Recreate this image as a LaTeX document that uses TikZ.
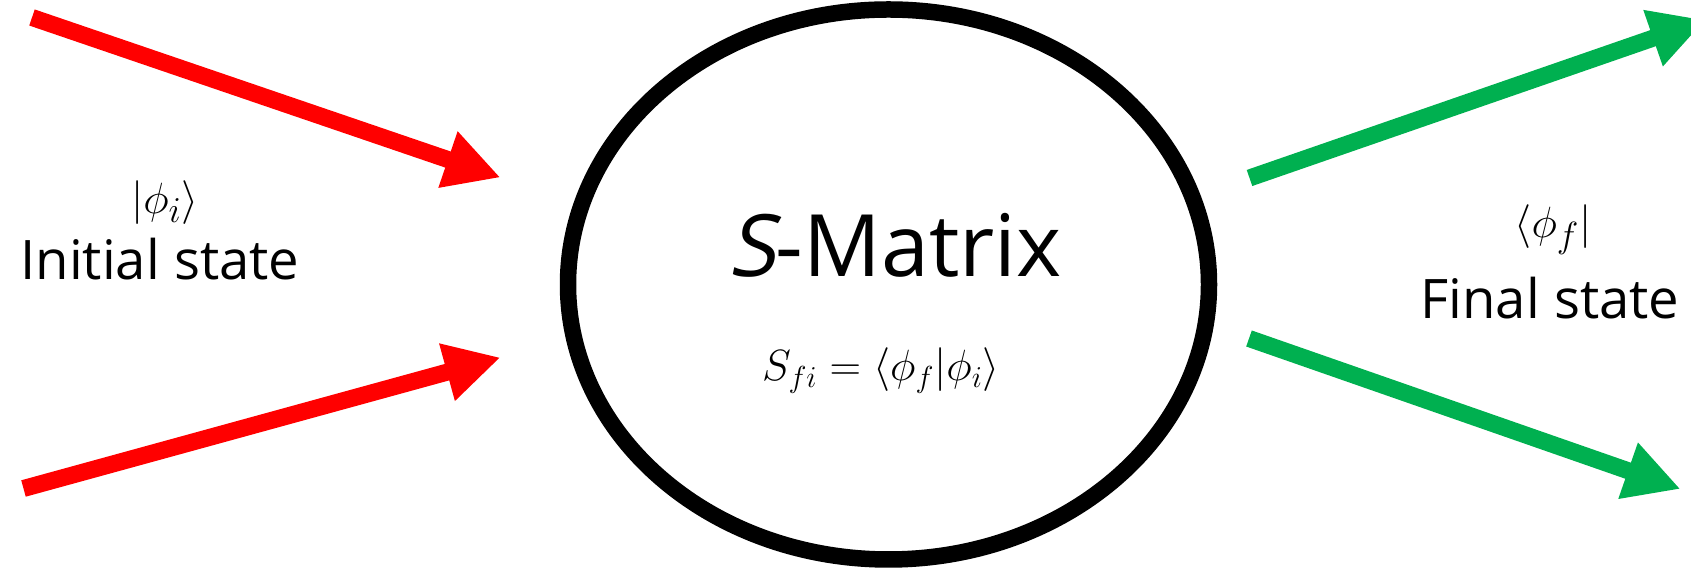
\documentclass[tikz,border=0pt]{standalone}
\usepackage{amsmath,amssymb}
\usepackage{fontspec}
\setmainfont{Open Sans}
\newfontfamily\slantsans{Open Sans}[FakeSlant=0.2]
\usepackage{tikz}
\usetikzlibrary{arrows.meta,positioning,shapes.geometric}
\definecolor{ingoing}{RGB}{255,0,0}
\definecolor{outgoing}{RGB}{0,176,80}

\begin{document}
\begin{tikzpicture}[>=Stealth,
    fatarrow/.style={line width=0.34cm,-{Triangle[length=1.11cm,width=1.11cm]}},
    statetext/.style={font=\fontsize{31}{37}\selectfont,anchor=base},
    braket/.style={font=\fontsize{28}{33}\selectfont}]
  \useasboundingbox (0,0) rectangle (33.82,11.38);
  \node[draw,ellipse,line width=0.33cm,minimum width=12.82cm,minimum height=11cm]
    (smat) at (17.77,5.69) {};
  \node[anchor=base,font=\fontsize{49}{57}\selectfont] (title) at (17.9,5.85)
    {{\slantsans S}-Matrix};
  \node[anchor=base,font=\fontsize{27}{32}\selectfont] (ampl) at (17.62,3.76)
    {$S_{fi}=\langle\phi_f|\phi_i\rangle$};
  % incoming states
  \coordinate (in1) at (0.64,11.03);
  \coordinate (in2) at (0.47,1.61);
  \coordinate (hit1) at (10.01,7.83);
  \coordinate (hit2) at (10.01,4.23);
  \draw[fatarrow,ingoing] (in1) -- (hit1);
  \draw[fatarrow,ingoing] (in2) -- (hit2);
  \node[statetext] (init) at (3.2,5.78) {Initial state};
  \node[braket] (ket) at (3.3,7.33) {$|\phi_i\rangle$};
  % outgoing states
  \coordinate (out1) at (24.99,7.82);
  \coordinate (out2) at (24.98,4.61);
  \coordinate (end1) at (34.11,10.98);
  \coordinate (end2) at (33.61,1.60);
  \draw[fatarrow,outgoing] (out1) -- (end1);
  \draw[fatarrow,outgoing] (out2) -- (end2);
  \node[statetext] (final) at (31.0,5.0) {Final state};
  \node[braket] (bra) at (31.06,6.78) {$\langle\phi_f|$};
\end{tikzpicture}
\end{document}
